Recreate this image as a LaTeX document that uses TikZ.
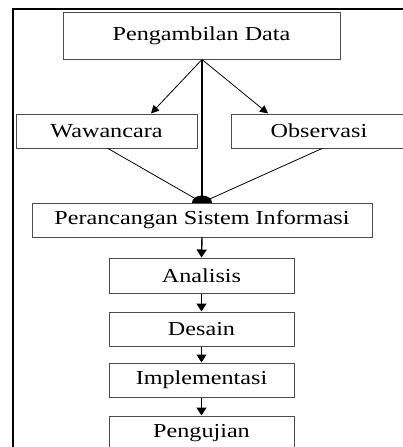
\documentclass[tikz,border=0pt]{standalone}
\usepackage{fontspec}
\setmainfont{Liberation Serif}
\usetikzlibrary{arrows.meta,calc}
\newcommand{\wtxt}[1]{\scalebox{1.22}[1]{#1}}
\begin{document}
\begin{tikzpicture}[x=1pt,y=-1pt,
  box/.style={draw=black!70,line width=1pt,rectangle,inner sep=0pt,
    font=\fontsize{19.8}{22}\selectfont},
  arr/.style={line width=1.4pt,-{Triangle[width=10pt,length=8pt]}},
  darr/.style={line width=0.8pt,-{Triangle[width=8pt,length=8pt]}},
  ln/.style={line width=0.8pt}]
\useasboundingbox (0,0) rectangle (403,447);
\clip (0,0) rectangle (403,447);
\fill[white] (0,0) rectangle (403,447);
% outer frame
\draw[line width=2pt] (13,460) -- (13,9) -- (410,9);
% nodes
\node[box,minimum width=277pt,minimum height=47pt] (pd) at (201.5,35.5) {\wtxt{Pengambilan Data}};
\node[box,minimum width=181pt,minimum height=34pt] (ww) at (106.5,131) {\wtxt{Wawancara}};
\node[box,minimum width=176pt,minimum height=34pt] (ob) at (319,131) {\wtxt{Observasi}};
\node[box,minimum width=340pt,minimum height=34pt] (pr) at (202,220) {\wtxt{Perancangan Sistem Informasi}};
\node[box,minimum width=185pt,minimum height=35pt] (an) at (201.5,275.5) {\wtxt{Analisis}};
\node[box,minimum width=185pt,minimum height=34pt] (de) at (201.5,329) {\wtxt{Desain}};
\node[box,minimum width=185pt,minimum height=34pt] (im) at (201.5,380) {\wtxt{Implementasi}};
\node[box,minimum width=185pt,minimum height=35pt] (pu) at (201.5,433.5) {\wtxt{Pengujian}};
\coordinate (top) at ([xshift=0.5pt]pd.south);
% connectors
\draw[darr] (top) -- ([xshift=44.5pt]ww.north);
\draw[darr] (top) -- ([xshift=-51pt]ob.north);
\draw[line width=1.3pt] (top) -- (pr.north);
\draw[ln] ([xshift=1.5pt]ww.south) -- (pr.north);
\draw[ln] ([xshift=3pt]ob.south) -- (pr.north);
\begin{scope}
\clip ($(pr.north)+(-12,-10)$) rectangle ($(pr.north)+(12,0)$);
\fill (pr.north) ellipse[x radius=10pt,y radius=7pt];
\end{scope}
\draw[arr] (pr.south) -- (an.north);
\draw[arr] (an.south) -- (de.north);
\draw[arr] (de.south) -- (im.north);
\draw[arr] (im.south) -- (pu.north);
\end{tikzpicture}
\end{document}
